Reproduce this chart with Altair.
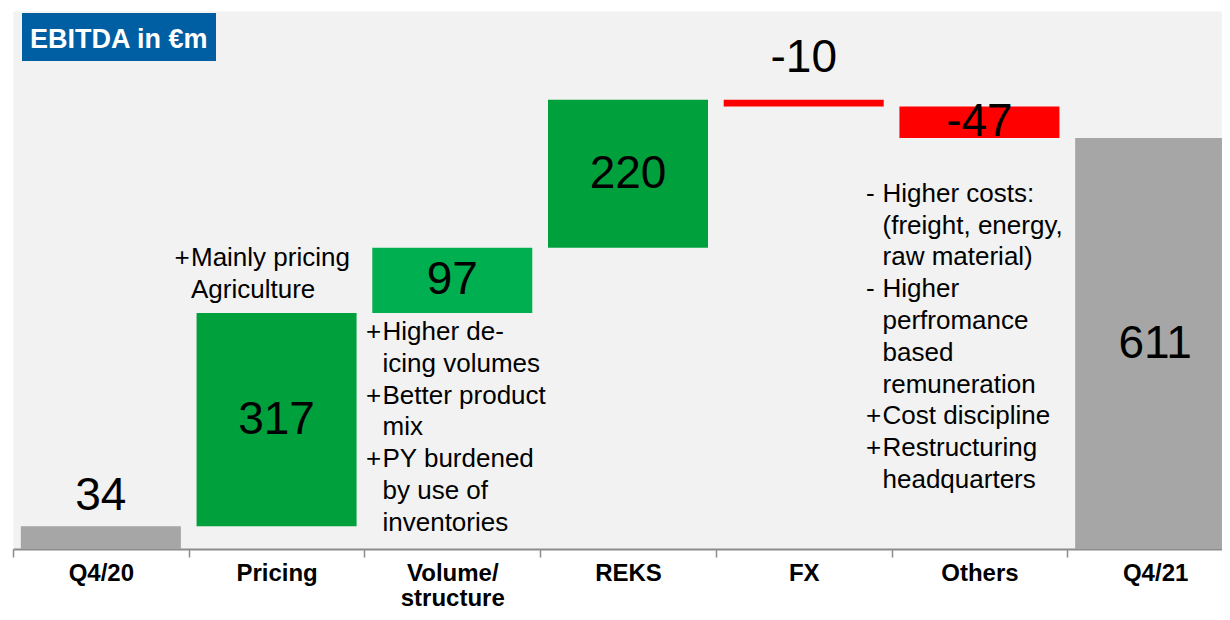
import altair as alt
import pandas as pd

FONT = "Liberation Sans"
LINE_H = 31.8

categories = ["Q4/20", "Pricing", "Volume/ structure", "REKS", "FX", "Others", "Q4/21"]
values = [34, 317, 97, 220, -10, -47, 611]
kinds = ["total", "delta", "delta", "delta", "delta", "delta", "total"]
value_labels = ["34", "317", "97", "220", "-10", "-47", "611"]
bar_colors = ["#a6a6a6", "#00a03c", "#00af50", "#00a03c", "#ff0000", "#ff0000", "#a6a6a6"]
label_place = ["above", "inside", "inside", "inside", "above", "inside", "inside"]

title_text = ["EBITDA in €m"]

annot_cats = ["Pricing", "Volume/ structure", "Others"]
annot_prefix = [
    ["+", ""],
    ["+", "", "+", "", "+", "", ""],
    ["-", "", "", "-", "", "", "", "+", "+", ""],
]
annot_body = [
    ["Mainly pricing", "Agriculture"],
    ["Higher de-", "icing volumes", "Better product", "mix", "PY burdened", "by use of", "inventories"],
    ["Higher costs:", "(freight, energy,", "raw material)", "Higher", "perfromance", "based",
     "remuneration", "Cost discipline", "Restructuring", "headquarters"],
]

# waterfall levels
starts, ends = [], []
level = 0
for v, k in zip(values, kinds):
    if k == "total":
        s, e = 0, v
    else:
        s, e = level, level + v
    starts.append(s)
    ends.append(e)
    level = e

df = pd.DataFrame({
    "cat": categories,
    "start": starts,
    "end": ends,
    "lo": [min(a, b) for a, b in zip(starts, ends)],
    "hi": [max(a, b) for a, b in zip(starts, ends)],
    "mid": [(a + b) / 2 for a, b in zip(starts, ends)],
    "label": value_labels,
    "color": bar_colors,
    "place": label_place,
})

ann = pd.DataFrame({"cat": annot_cats, "body": ["\n".join(b) for b in annot_body]})
ann = ann.merge(df[["cat", "lo", "hi"]], on="cat")

pre_rows = []
for cat, plist in zip(annot_cats, annot_prefix):
    for j, sym in enumerate(plist):
        if sym:
            pre_rows.append({"cat": cat, "sym": sym, "line": j})
pre = pd.DataFrame(pre_rows).merge(df[["cat", "lo", "hi"]], on="cat")

x = alt.X(
    "cat:N",
    sort=categories,
    scale=alt.Scale(range=[0, 1230], paddingInner=0, paddingOuter=0),
    axis=alt.Axis(
        title=None, labelAngle=0, labelFont=FONT, labelFontWeight="bold",
        labelFontSize=24, labelColor="black", labelPadding=4, tickSize=8,
        tickColor="#8c8c8c", tickWidth=1.5, domainColor="#8c8c8c", domainWidth=2,
        tickBand="extent", labelLineHeight=25, labelOverlap=False, labelLimit=400,
        labelExpr="datum.label == 'Volume/ structure' ? ['Volume/', 'structure'] : datum.label",
    ),
)
yscale = alt.Scale(domain=[0, 800], nice=False, zero=True)

base = alt.Chart(df)

bars = base.mark_bar(width=alt.RelativeBandSize(0.9106)).encode(
    x=x,
    y=alt.Y("start:Q", scale=yscale, axis=None),
    y2="end:Q",
    color=alt.Color("color:N", scale=None),
)

inside = base.transform_filter("datum.place == 'inside'").mark_text(
    font=FONT, fontSize=46, baseline="middle", align="center", color="black"
).encode(x=x, y=alt.Y("mid:Q", scale=yscale, axis=None), text="label:N")

above_q4 = base.transform_filter("datum.place == 'above' && datum.cat == 'Q4/20'").mark_text(
    font=FONT, fontSize=46, baseline="alphabetic", align="center", color="black", dy=-16
).encode(x=x, y=alt.Y("hi:Q", scale=yscale, axis=None), text="label:N")

above_fx = base.transform_filter("datum.place == 'above' && datum.cat == 'FX'").mark_text(
    font=FONT, fontSize=46, baseline="alphabetic", align="center", color="black", dy=-28
).encode(x=x, y=alt.Y("hi:Q", scale=yscale, axis=None), text="label:N")

layers = [bars, inside, above_q4, above_fx]

# annotation blocks: (category, anchor field, dy, prefix dx, body dx)
blocks = [
    ("Pricing", "hi", -47, -102, -85.6),
    ("Volume/ structure", "lo", 27, -86.3, -69.8),
    ("Others", "lo", 63.7, -113.4, -96.9),
]
for (cat, field, dy, pdx, bdx), plist in zip(blocks, annot_prefix):
    layers.append(
        alt.Chart(ann).transform_filter(alt.datum.cat == cat).mark_text(
            font=FONT, fontSize=26, align="left", baseline="alphabetic",
            color="black", lineBreak="\n", lineHeight=LINE_H, dx=bdx, dy=dy,
        ).encode(x=x, y=alt.Y(f"{field}:Q", scale=yscale, axis=None), text="body:N")
    )
    for j, sym in enumerate(plist):
        if not sym:
            continue
        layers.append(
            alt.Chart(pre).transform_filter((alt.datum.cat == cat) & (alt.datum.line == j)).mark_text(
                font=FONT, fontSize=26, align="left", baseline="alphabetic",
                color="black", dx=pdx, dy=dy + j * LINE_H,
            ).encode(x=x, y=alt.Y(f"{field}:Q", scale=yscale, axis=None), text="sym:N")
        )

tdf = pd.DataFrame({"t": title_text})
title_box = alt.Chart(tdf).mark_rect(color="#005ea2").encode(
    x=alt.value(9), x2=alt.value(203), y=alt.value(2), y2=alt.value(50)
)
title_txt = alt.Chart(tdf).mark_text(
    font=FONT, fontSize=27, fontWeight="bold", color="white", align="left", baseline="alphabetic"
).encode(x=alt.value(17), y=alt.value(37), text="t:N")
layers += [title_box, title_txt]

chart = alt.layer(*layers).properties(
    width=1209,
    height=538,
    autosize=alt.AutoSizeParams(type="none"),
    padding={"left": 5, "top": 3, "right": 0, "bottom": 63},
).configure_view(fill="#f2f2f2", strokeOpacity=0)

chart.save("out.html", embed_options={"renderer": "svg", "actions": False})
